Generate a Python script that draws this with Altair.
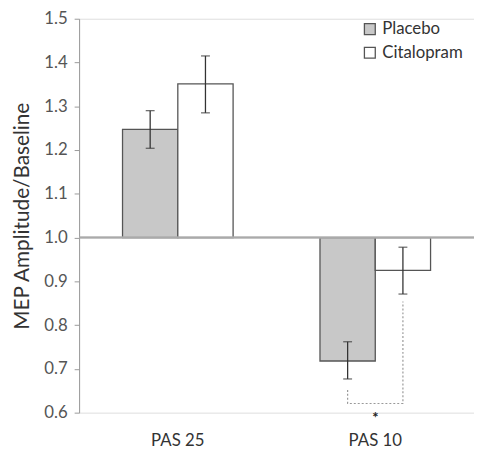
import altair as alt
import pandas as pd

categories = ["PAS 25", "PAS 25", "PAS 10", "PAS 10"]
groups = ["Placebo", "Citalopram", "Placebo", "Citalopram"]
means = [1.247, 1.351, 0.718, 0.925]
err_lo = [1.204, 1.285, 0.677, 0.871]
err_hi = [1.290, 1.415, 0.762, 0.978]

bracket_cat = ["PAS 10", "PAS 10", "PAS 10", "PAS 10"]
bracket_group = ["Placebo", "Placebo", "Citalopram", "Citalopram"]
bracket_y = [0.652, 0.621, 0.621, 0.854]
bracket_order = [0, 1, 2, 3]

cat_order = ["PAS 25", "PAS 10"]
group_order = ["Placebo", "Citalopram"]
y_ticks = [0.6, 0.7, 0.8, 0.9, 1.0, 1.1, 1.2, 1.3, 1.4, 1.5]

df = pd.DataFrame({"cat": categories, "group": groups, "mean": means,
                   "lo": err_lo, "hi": err_hi, "base": [1.0] * 4})
br = pd.DataFrame({"cat": bracket_cat, "group": bracket_group,
                   "y": bracket_y, "o": bracket_order})
star = pd.DataFrame({"cat": ["PAS 10"], "y": [0.588], "t": ["*"]})

FONT = "Lato"

x_enc = alt.X("cat:N", sort=cat_order, title=None,
              scale=alt.Scale(paddingInner=0.44, paddingOuter=0.22),
              axis=alt.Axis(labelAngle=0, domain=False, ticks=False,
                            labelFontSize=17, labelColor="#333",
                            labelPadding=20, labelFont=FONT))
xo = alt.XOffset("group:N", sort=group_order, scale=alt.Scale(paddingInner=0, paddingOuter=0))
y_scale = alt.Scale(domain=[0.6, 1.5], nice=False, zero=False)

bars = alt.Chart(df).mark_bar(stroke="#555", strokeWidth=1.3).encode(
    x=x_enc,
    xOffset=xo,
    y=alt.Y("mean:Q", scale=y_scale, title="MEP Amplitude/Baseline",
            axis=alt.Axis(values=y_ticks, format=".1f", grid=False,
                          domainColor="#999", tickColor="#999", tickSize=5,
                          labelFontSize=17, labelColor="#555", labelFont=FONT,
                          titleFontSize=21, titleColor="#333", titleFont=FONT,
                          titleFontWeight="normal", titlePadding=11, labelPadding=7)),
    y2="base:Q",
    fill=alt.Fill("group:N", sort=group_order,
                  scale=alt.Scale(domain=group_order, range=["#c8c8c8", "#ffffff"]),
                  legend=alt.Legend(title=None, orient="none", legendX=286, legendY=2,
                                    symbolType="square", symbolSize=121,
                                    symbolStrokeColor="#555", symbolStrokeWidth=1.3,
                                    labelFontSize=17, labelColor="#333", labelFont=FONT,
                                    rowPadding=6, labelOffset=4)),
)

base_rule = alt.Chart(df).mark_rule(color="#aaa", strokeWidth=1.5).encode(
    y=alt.datum(1.0)
)

err = alt.Chart(df).mark_rule(color="#333", strokeWidth=1.3).encode(
    x=alt.X("cat:N", sort=cat_order), xOffset=xo,
    y="lo:Q", y2="hi:Q")
cap_lo = alt.Chart(df).mark_tick(color="#333", thickness=1.3, size=9, orient="horizontal").encode(
    x=alt.X("cat:N", sort=cat_order), xOffset=xo, y="lo:Q")
cap_hi = alt.Chart(df).mark_tick(color="#333", thickness=1.3, size=9, orient="horizontal").encode(
    x=alt.X("cat:N", sort=cat_order), xOffset=xo, y="hi:Q")

bracket = alt.Chart(br).mark_line(color="#999", strokeWidth=1.2, strokeDash=[2, 2]).encode(
    x=alt.X("cat:N", sort=cat_order), xOffset=alt.XOffset("group:N", sort=group_order),
    y="y:Q", order="o:Q")

star_t = alt.Chart(star).mark_text(fontSize=15, color="#222", baseline="middle",
                                   font=FONT, fontWeight="bold").encode(
    x=alt.X("cat:N", sort=cat_order), y="y:Q", text="t:N")

chart = alt.layer(bars, base_rule, err, cap_lo, cap_hi, bracket, star_t).properties(
    width=400, height=399,
    autosize=alt.AutoSizeParams(type="none"),
    padding={"left": 72, "top": 8, "right": 0, "bottom": 39},
).configure_view(stroke=None).configure(background="white")

chart.save("out.html", embed_options={"renderer": "svg", "actions": False})
